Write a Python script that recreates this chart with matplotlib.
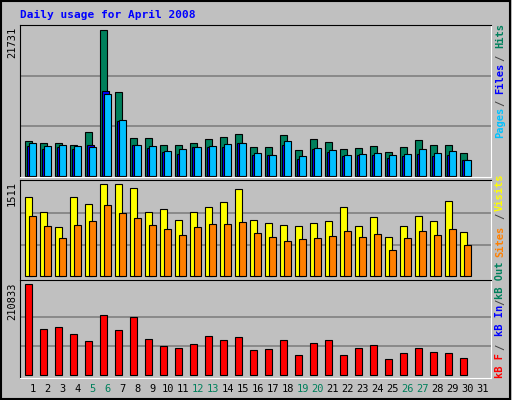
import matplotlib
matplotlib.use("Agg")
import matplotlib.pyplot as plt
import numpy as np

days = list(range(1, 32))
weekend = [5, 6, 12, 13, 19, 20, 26, 27]
hits = [5260, 4920, 4920, 4620, 6500, 21731, 12430, 5750, 5650, 4700, 4700, 4870, 5460, 5900, 6340, 4280, 4280, 6190, 3880, 5600, 5160, 4030, 4180, 4470, 3590, 4330, 5360, 4620, 4620, 3440]
files = [4520, 4040, 4370, 4040, 4570, 12680, 8260, 4690, 4230, 3640, 3290, 4370, 4370, 4370, 5010, 3200, 3150, 4690, 2560, 4080, 3590, 3000, 3150, 3200, 2660, 3050, 3290, 3050, 3150, 2410]
pages = [4920, 4470, 4650, 4520, 4370, 12250, 8410, 4670, 4540, 3720, 4020, 4290, 4460, 4720, 5010, 3450, 3150, 5200, 3020, 4180, 3880, 3150, 3250, 3440, 3150, 3250, 4020, 3440, 3720, 2410]
visits = [1298, 1051, 805, 1298, 1183, 1511, 1511, 1445, 1051, 1100, 919, 1051, 1133, 1216, 1429, 919, 870, 837, 821, 870, 903, 1133, 821, 969, 641, 821, 985, 903, 1232, 723]
sites = [985, 821, 624, 838, 903, 1166, 1035, 952, 838, 772, 674, 805, 854, 854, 887, 706, 641, 575, 608, 624, 657, 739, 641, 690, 427, 624, 739, 674, 772, 509]
kbf = [210833, 105800, 110400, 94000, 77900, 138100, 103400, 133500, 83200, 67200, 62500, 71800, 90300, 81000, 87900, 57900, 60200, 81000, 46100, 74100, 81000, 46100, 62500, 69500, 37000, 50700, 62500, 53200, 50700, 39300]

BG = "#C0C0C0"
fig = plt.figure(figsize=(5.12, 4.0), dpi=100, facecolor=BG)
W, H = 512, 400
def ax_at(x0, y0, x1, y1):
    return fig.add_axes([x0 / W, 1 - y1 / H, (x1 - x0) / W, (y1 - y0) / H])

x = np.arange(30)
bw = 0.47
def style(ax, ylim, grids):
    ax.set_facecolor(BG)
    ax.set_xlim(-0.35, 31.05)
    ax.set_ylim(*ylim)
    for g in grids:
        ax.axhline(g, color="#808080", lw=1.2, zorder=0)
    ax.set_xticks([]); ax.set_yticks([])
    for s, c in [("left", "black"), ("top", "black"), ("right", "white"), ("bottom", "white")]:
        ax.spines[s].set_color(c)

a1 = ax_at(20, 25, 491, 177)
style(a1, (-100, 22425), [7400, 14800])
a1.bar(x, hits, width=bw, align="edge", color="#00805c", edgecolor="black", lw=0.8)
a1.bar(x + 0.13, files, width=bw, align="edge", color="#0000ff", edgecolor="black", lw=0.8)
a1.bar(x + 0.27, pages, width=bw, align="edge", color="#00c0ff", edgecolor="black", lw=0.8)

a2 = ax_at(20, 180, 491, 280)
style(a2, (-60, 1582), [520, 1040])
a2.bar(x, visits, width=bw, align="edge", color="#ffff00", edgecolor="black", lw=0.8)
a2.bar(x + 0.27, sites, width=bw, align="edge", color="#ff8000", edgecolor="black", lw=0.8)

a3 = ax_at(20, 280, 491, 378)
style(a3, (-6950, 220100), [67000, 134000])
a3.bar(x, kbf, width=bw, align="edge", color="#ff0000", edgecolor="black", lw=0.8)

mono = "DejaVu Sans Mono"
fig.text(20 / W, 1 - 15 / H, "Daily usage for April 2008", color="#0000ff", family=mono,
         weight="bold", fontsize=8, va="center", ha="left")
for xd, txt, ytop in [(12, "21731", 27), (12, "1511", 181), (12, "210833", 283)]:
    fig.text(xd / W, 1 - ytop / H, txt, rotation=90, family=mono, fontsize=7.5, va="top", ha="center")
for d in days:
    c = "#00805c" if d in weekend else "black"
    a3.text(d - 1 + 0.5, -0.06, str(d), transform=a3.get_xaxis_transform(), ha="center", va="top",
            color=c, family=mono, fontsize=7.5)

def rlab(parts):
    for t, c, yc in parts:
        fig.text(500 / W, 1 - yc / H, t, rotation=90, color=c, family=mono, fontsize=7.5,
                 va="center", ha="center", weight="bold")
rlab([("Pages", "#00c0ff", 122), ("/", "#444444", 103), ("Files", "#0000ff", 78),
      ("/", "#444444", 58), ("Hits", "#00805c", 36)])
rlab([("Sites", "#ff8000", 241), ("/", "#444444", 216), ("Visits", "#ffff00", 192)])
rlab([("kB F", "#ff0000", 366), ("/", "#444444", 347), ("kB In", "#0000ff", 320),
      ("/", "#444444", 302), ("kB Out", "#00805c", 280)])

fig.add_artist(plt.Rectangle((0.002, 0.003), 0.995, 0.994, transform=fig.transFigure,
                             fill=False, edgecolor="black", lw=1.5))
fig.savefig("out.png", dpi=100, facecolor=BG)
